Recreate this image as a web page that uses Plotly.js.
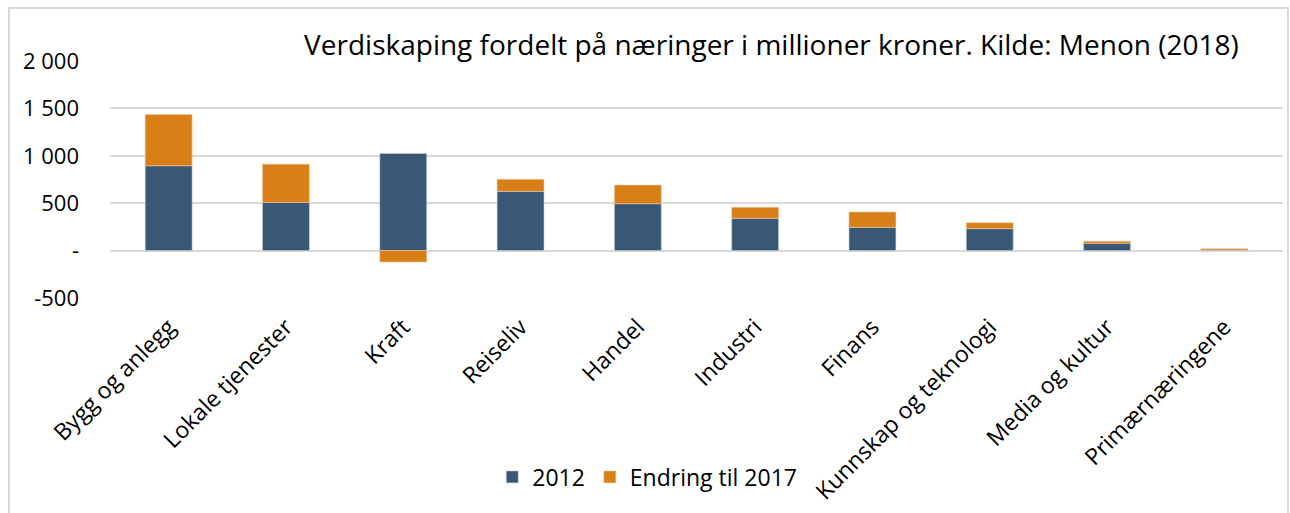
<!DOCTYPE html>
<html>
<head>
<meta charset="utf-8">
<script src="https://cdn.plot.ly/plotly-3.0.1.min.js"></script>
<style>
html,body{margin:0;padding:0;background:#fff;}
#wrap{position:relative;width:1290px;height:513px;}
#chart{width:1290px;height:513px;}
#frame{position:absolute;left:8px;top:7px;width:1277px;height:520px;border:2px solid #d9d9d9;pointer-events:none;}
</style>
</head>
<body>
<div id="wrap"><div id="chart"></div><div id="frame"></div></div>
<script>
const categories = ["Bygg og anlegg","Lokale tjenester","Kraft","Reiseliv","Handel","Industri","Finans","Kunnskap og teknologi","Media og kultur","Primærnæringene"];
const values2012 = [895, 508, 1025, 625, 495, 340, 245, 232, 77, 6];
const change2017 = [540, 404, -120, 127, 196, 116, 162, 63, 21, 14];
const yTickVals = [-500, 0, 500, 1000, 1500, 2000];
const yTickText = ["-500", "-", "500", "1 000", "1 500", "2 000"];

const font = "Open Sans, sans-serif";
const traces = [
  {type:"bar", name:"2012", x:categories, y:values2012,
   marker:{color:"#3A5876", line:{color:"rgba(200,210,220,0.6)", width:1}}},
  {type:"bar", name:"Endring til 2017", x:categories, y:change2017,
   marker:{color:"#D97F18", line:{color:"rgba(240,200,160,0.6)", width:1}}}
];
const layout = {
  width:1290, height:513,
  barmode:"relative", bargap:0.6,
  paper_bgcolor:"#fff", plot_bgcolor:"#fff",
  margin:{l:110, r:7, t:61, b:215},
  font:{family:font, size:22, color:"#000"},
  title:{text:"Verdiskaping fordelt på næringer i millioner kroner. Kilde: Menon (2018)",
         x:0.598, xanchor:"center", y:0.912, yanchor:"middle",
         font:{family:font, size:28, color:"#000"}},
  xaxis:{tickangle:-45, showgrid:false, zeroline:false, showline:false, ticks:"",
         tickfont:{family:font, size:23}, ticklabelstandoff:10, automargin:false},
  yaxis:{range:[-500,2000], tickvals:yTickVals, ticktext:yTickText,
         showgrid:true, gridcolor:"#d9d9d9", gridwidth:2, zeroline:false,
         showline:false, ticks:"", ticklabelstandoff:30,
         tickfont:{family:font, size:22}, automargin:false},
  showlegend:true,
  legend:{orientation:"h", x:0.458, xanchor:"center", y:-0.755, yanchor:"middle",
          font:{family:font, size:23}, traceorder:"normal", itemwidth:30},
};
Plotly.newPlot("chart", traces, layout, {displayModeBar:false, staticPlot:true});
</script>
</body>
</html>
